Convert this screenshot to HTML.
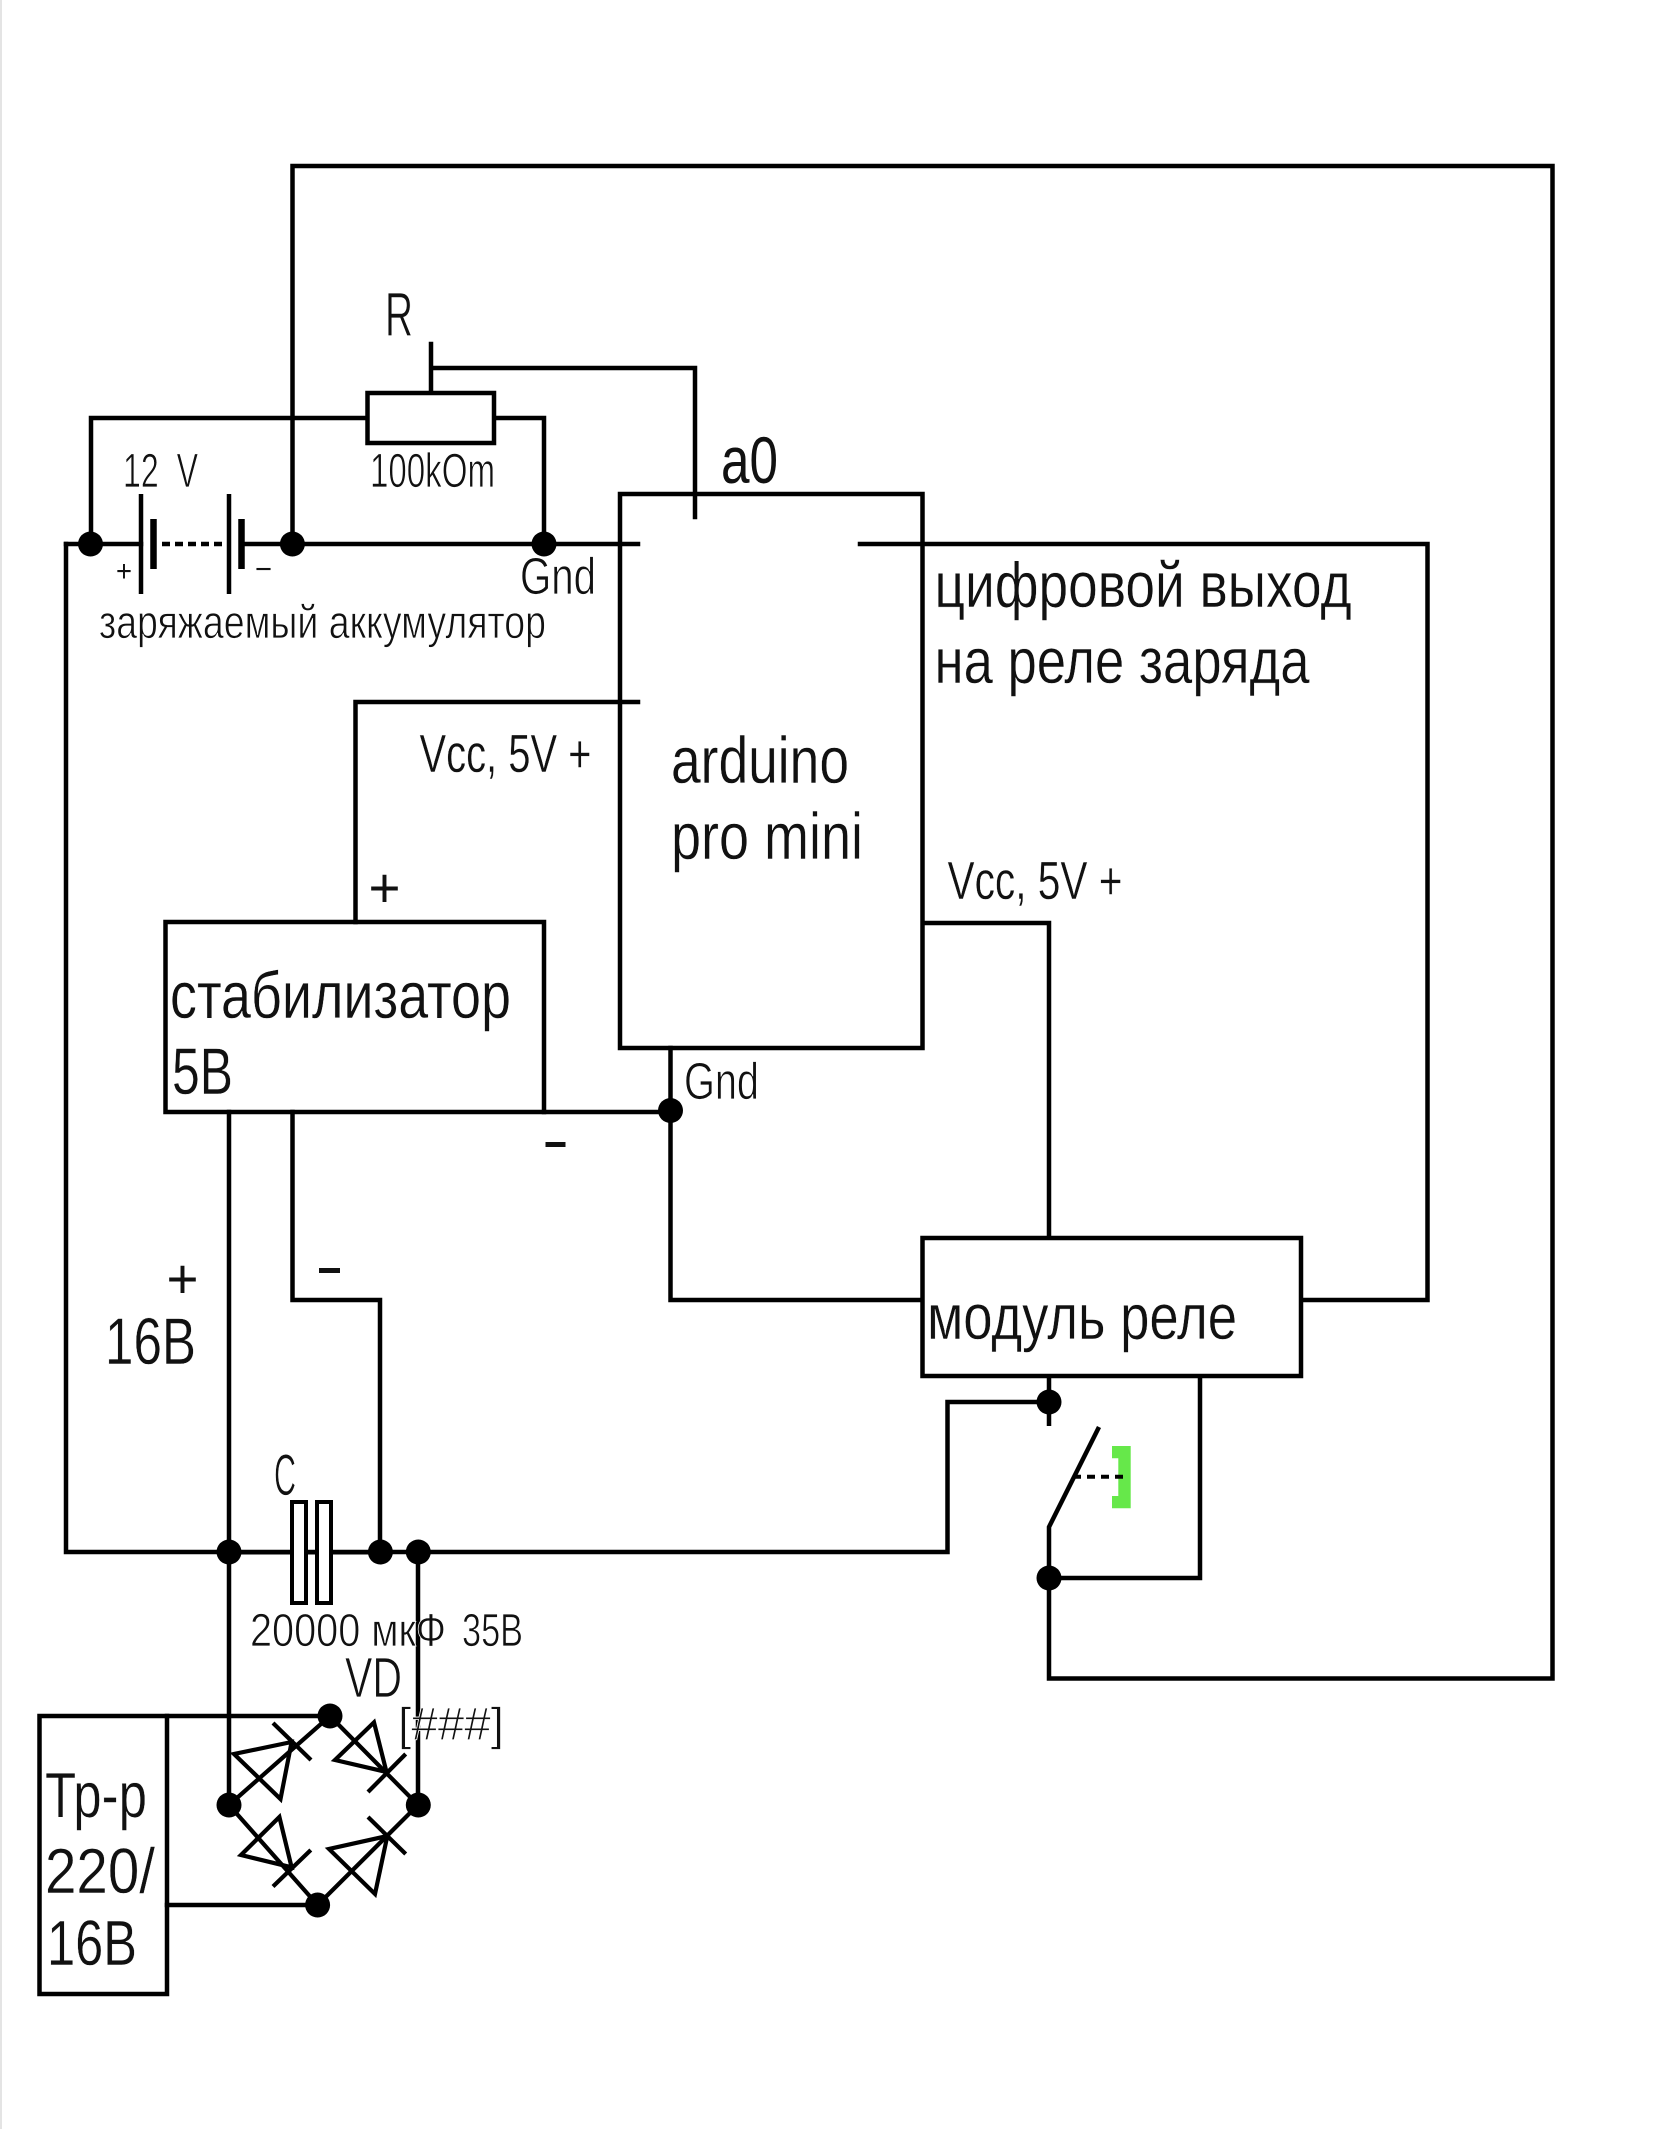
<!DOCTYPE html>
<html lang="ru">
<head>
<meta charset="utf-8">
<title>Схема</title>
<style>
html,body{margin:0;padding:0;background:#fff;width:1661px;height:2129px;overflow:hidden}
svg{display:block}
text{font-family:"Liberation Sans","DejaVu Sans",sans-serif;fill:#111}
text.t{stroke:#fff;stroke-width:.8}
text.u{stroke:#fff;stroke-width:.4}
.w{fill:none;stroke:#000;stroke-width:4.5;stroke-linejoin:miter;stroke-linecap:square}
.d{fill:#000}
</style>
</head>
<body>
<svg width="1661" height="2129" viewBox="0 0 1661 2129" xmlns="http://www.w3.org/2000/svg">
<rect x="0" y="0" width="2" height="2129" fill="#e4e4e4"/>

<!-- Wires -->
<path class="w" d="M292.5 544V166H1552.5V1678.5H1049V1578"/>
<path class="w" d="M66 544V1552H947.5V1402H1049"/>
<path class="w" d="M66 544H141M241 544H638"/>
<path class="w" d="M91 544V418H367M494 418H544V544"/>
<path class="w" d="M431 344V393M431 368H695V517"/>
<path class="w" d="M860 544H1427.5V1300H1301"/>
<path class="w" d="M638 702H355.5V922"/>
<path class="w" d="M923 923H1049V1238"/>
<path class="w" d="M670.5 1048V1300H923"/>
<path class="w" d="M544 1112H670"/>
<path class="w" d="M229 1112V1805"/>
<path class="w" d="M292.5 1112V1300H380V1552"/>
<path class="w" d="M418 1552V1805"/>
<path class="w" style="stroke-linecap:butt" d="M1049 1376V1426M1049 1578V1527L1099 1427"/>
<path class="w" d="M1049 1578H1200V1376"/>
<path class="w" d="M167 1716H330M167 1905H317"/>

<!-- Boxes -->
<rect class="w" x="620" y="494" width="302.5" height="554"/>
<rect class="w" x="165.5" y="922" width="378.5" height="190" style="fill:none"/>
<rect class="w" x="922.5" y="1238" width="378.5" height="138" style="fill:#fff"/>
<rect class="w" x="39.5" y="1716" width="127.5" height="278"/>
<rect class="w" x="367.5" y="393" width="126.5" height="50" style="fill:#fff"/>

<!-- Battery -->
<path class="w" style="stroke-linecap:butt" d="M141 494V594M229 494V594"/>
<path class="w" style="stroke-width:6.5;stroke-linecap:butt" d="M153.5 519V569M241.5 519V569"/>
<path class="w" style="stroke-linecap:butt;stroke-dasharray:8 5" d="M162 544H228"/>

<!-- Capacitor -->
<rect x="230" y="1550" width="150" height="4.5" fill="#000"/>
<rect class="w" x="292" y="1502" width="14" height="101" style="fill:#fff;stroke-width:4"/>
<rect class="w" x="317" y="1502" width="14" height="101" style="fill:#fff;stroke-width:4"/>

<!-- Relay contact -->
<polygon points="1112,1446 1130.7,1446 1130.7,1508.3 1112,1508.3 1112,1496 1118.3,1496 1118.3,1458.3 1112,1458.3" fill="#66e84a"/>
<path style="fill:none;stroke:#000;stroke-width:4;stroke-dasharray:8 6" d="M1073 1476.7H1127"/>

<!-- Diode bridge -->
<g style="fill:none;stroke:#000;stroke-width:4.2">
<path d="M229 1805L330 1716L418 1805L317.6 1905L229 1805"/>
<path d="M273 1723L311 1760"/>
<polygon points="291.6,1742 234,1754 280.5,1799"/>
<path d="M368 1792L405.7 1754"/>
<polygon points="386.5,1772 335,1760 374,1722.4"/>
<path d="M273 1886.5L310.8 1850"/>
<polygon points="291.6,1867.3 241,1855 279.4,1817"/>
<path d="M368 1817L405.7 1854"/>
<polygon points="387.3,1836 329,1849 375,1894"/>
</g>

<!-- Junction dots -->
<g class="d">
<ellipse cx="90.5" cy="544" rx="12.5" ry="12.5"/>
<ellipse cx="292.4" cy="544" rx="12.5" ry="12.5"/>
<ellipse cx="544" cy="544" rx="12.5" ry="12.5"/>
<ellipse cx="670.5" cy="1110.5" rx="12.5" ry="12.5"/>
<ellipse cx="1049" cy="1402" rx="12.5" ry="12.5"/>
<ellipse cx="1049" cy="1578" rx="12.5" ry="12.5"/>
<ellipse cx="229" cy="1552" rx="12.5" ry="12.5"/>
<ellipse cx="380.4" cy="1552" rx="12.5" ry="12.5"/>
<ellipse cx="418.3" cy="1552" rx="12.5" ry="12.5"/>
<ellipse cx="229" cy="1805" rx="12.5" ry="12.5"/>
<ellipse cx="418.3" cy="1805" rx="12.5" ry="12.5"/>
<ellipse cx="330" cy="1716" rx="12.5" ry="12.5"/>
<ellipse cx="317.6" cy="1905" rx="12.5" ry="12.5"/>
</g>

<!-- Labels -->
<text class="t" x="385" y="336" font-size="62" textLength="28" lengthAdjust="spacingAndGlyphs">R</text>
<text class="t" x="123" y="487" font-size="48" textLength="75" lengthAdjust="spacingAndGlyphs">12&#160;&#160;V</text>
<text class="t" x="370" y="487" font-size="48" textLength="125" lengthAdjust="spacingAndGlyphs">100kOm</text>
<text x="116" y="581" font-size="30" textLength="16" lengthAdjust="spacingAndGlyphs">+</text>
<text x="255" y="579" font-size="30" textLength="17" lengthAdjust="spacingAndGlyphs">−</text>
<text class="t" x="520" y="594" font-size="52" textLength="76" lengthAdjust="spacingAndGlyphs">Gnd</text>
<text class="t" x="99" y="638" font-size="46" textLength="447" lengthAdjust="spacingAndGlyphs">заряжаемый аккумулятор</text>
<text x="721" y="483" font-size="66" textLength="57" lengthAdjust="spacingAndGlyphs">a0</text>
<text class="u" x="934.5" y="607" font-size="64" textLength="417" lengthAdjust="spacingAndGlyphs">цифровой выход</text>
<text class="u" x="934.5" y="683" font-size="64" textLength="375" lengthAdjust="spacingAndGlyphs">на реле заряда</text>
<text class="u" x="419.5" y="772" font-size="54" textLength="172" lengthAdjust="spacingAndGlyphs">Vcc, 5V +</text>
<text class="u" x="671" y="783" font-size="66" textLength="178" lengthAdjust="spacingAndGlyphs">arduino</text>
<text class="u" x="671" y="859" font-size="66" textLength="192" lengthAdjust="spacingAndGlyphs">pro mini</text>
<text class="u" x="947.5" y="899" font-size="54" textLength="175" lengthAdjust="spacingAndGlyphs">Vcc, 5V +</text>
<text x="368.5" y="907" font-size="56" textLength="32" lengthAdjust="spacingAndGlyphs">+</text>
<text class="u" x="170" y="1018" font-size="66" textLength="341" lengthAdjust="spacingAndGlyphs">стабилизатор</text>
<text class="u" x="172" y="1094" font-size="66" textLength="61" lengthAdjust="spacingAndGlyphs">5В</text>
<text class="t" x="684" y="1099" font-size="52" textLength="75" lengthAdjust="spacingAndGlyphs">Gnd</text>
<rect x="545.5" y="1142" width="20" height="5" fill="#111"/>
<text x="166.5" y="1298" font-size="56" textLength="32" lengthAdjust="spacingAndGlyphs">+</text>
<rect x="319" y="1268" width="21" height="5" fill="#111"/>
<text class="u" x="105" y="1364" font-size="66" textLength="91" lengthAdjust="spacingAndGlyphs">16В</text>
<text class="u" x="927" y="1339" font-size="64" textLength="310" lengthAdjust="spacingAndGlyphs">модуль реле</text>
<text class="t" x="274" y="1495" font-size="58" textLength="22" lengthAdjust="spacingAndGlyphs">C</text>
<text class="t" x="250" y="1646" font-size="46" textLength="196" lengthAdjust="spacingAndGlyphs">20000 мкФ</text>
<text class="t" x="462" y="1646" font-size="46" textLength="61" lengthAdjust="spacingAndGlyphs">35В</text>
<text class="t" x="345" y="1697" font-size="57" textLength="57" lengthAdjust="spacingAndGlyphs">VD</text>
<text class="t" x="398" y="1740" font-size="46" textLength="106" lengthAdjust="spacingAndGlyphs">[###]</text>
<text class="u" x="45" y="1817" font-size="64" textLength="102" lengthAdjust="spacingAndGlyphs">Тр-р</text>
<text class="u" x="45" y="1893" font-size="64" textLength="110" lengthAdjust="spacingAndGlyphs">220/</text>
<text class="u" x="47" y="1965" font-size="64" textLength="90" lengthAdjust="spacingAndGlyphs">16В</text>
</svg>
</body>
</html>
